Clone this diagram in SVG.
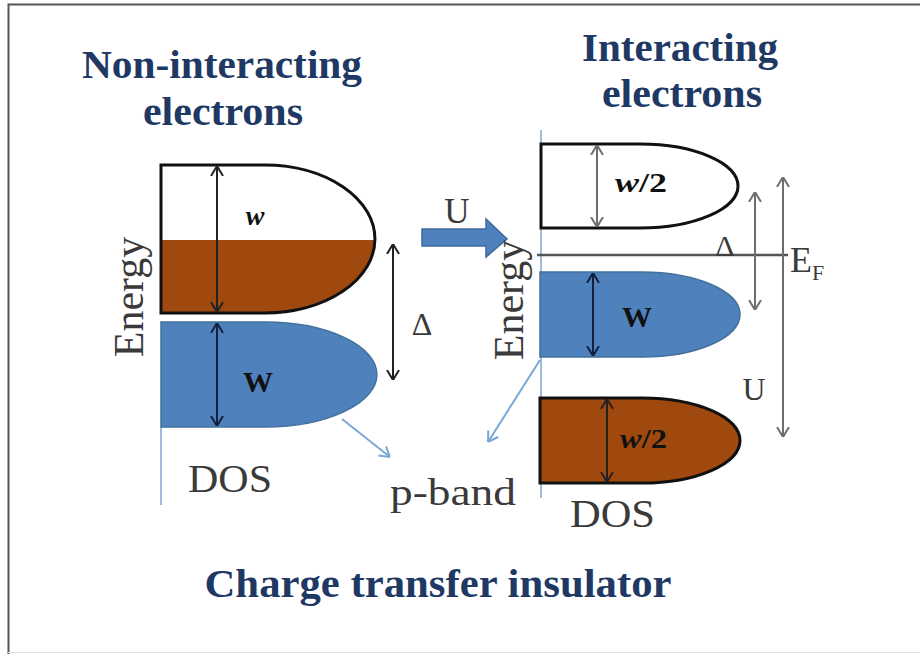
<svg xmlns="http://www.w3.org/2000/svg" width="920" height="654" viewBox="0 0 920 654">
<style>
  .title{font-family:"Liberation Serif","Times New Roman",Times,serif;font-weight:bold;font-size:40px;fill:#203864;text-anchor:middle}
  .lbl{font-family:"Liberation Serif","Times New Roman",Times,serif;fill:#3a3a3a}
  .bi{font-family:"Liberation Serif","Times New Roman",Times,serif;font-weight:bold;fill:#111}
  .blue{fill:#4F81BD;stroke:#41719C;stroke-width:1.5}
  .brown{fill:#A0490F}
  .outline{fill:none;stroke:#111;stroke-width:3}
  .axis{stroke:#9DBCE0;stroke-width:2;fill:none}
  .a-blk{stroke:#222;stroke-width:2;fill:none}
  .a-gry{stroke:#6e6e6e;stroke-width:2;fill:none}
  .a-nav{stroke:#14213d;stroke-width:2;fill:none}
  .a-lb{stroke:#7BA7D6;stroke-width:2;fill:none}
</style>
<defs>
  <marker id="mBlk" viewBox="0 0 10 14" refX="10" refY="7" markerWidth="10" markerHeight="14" markerUnits="userSpaceOnUse" orient="auto-start-reverse"><path d="M0,1 L10,7 L0,13" fill="none" stroke="#222" stroke-width="2"/></marker>
  <marker id="mGry" viewBox="0 0 10 14" refX="10" refY="7" markerWidth="10" markerHeight="14" markerUnits="userSpaceOnUse" orient="auto-start-reverse"><path d="M0,1 L10,7 L0,13" fill="none" stroke="#6e6e6e" stroke-width="2"/></marker>
  <marker id="mNav" viewBox="0 0 10 14" refX="10" refY="7" markerWidth="10" markerHeight="14" markerUnits="userSpaceOnUse" orient="auto-start-reverse"><path d="M0,1 L10,7 L0,13" fill="none" stroke="#14213d" stroke-width="2"/></marker>
  <marker id="mLb" viewBox="0 0 10 14" refX="10" refY="7" markerWidth="10" markerHeight="14" markerUnits="userSpaceOnUse" orient="auto-start-reverse"><path d="M0,1 L10,7 L0,13" fill="none" stroke="#7BA7D6" stroke-width="2"/></marker>
</defs>
<rect x="0" y="0" width="920" height="654" fill="#fff"/>
<path d="M8.5,654 V4.5 H920" fill="none" stroke="#555" stroke-width="2"/>
<line x1="8" y1="652.5" x2="920" y2="652.5" stroke="#e2e2e2" stroke-width="1"/>

<g id="titles">
  <text class="title" x="222" y="78" textLength="280" lengthAdjust="spacingAndGlyphs">Non-interacting</text>
  <text class="title" x="223" y="125" textLength="160" lengthAdjust="spacingAndGlyphs">electrons</text>
  <text class="title" x="680" y="61" textLength="196" lengthAdjust="spacingAndGlyphs">Interacting</text>
  <text class="title" x="682" y="107" textLength="160" lengthAdjust="spacingAndGlyphs">electrons</text>
  <text class="title" x="438" y="597" textLength="467" lengthAdjust="spacingAndGlyphs">Charge transfer insulator</text>
</g>

<g id="left-axis">
  <line class="axis" x1="161" y1="427" x2="161" y2="505"/>
  <text class="lbl" font-size="42" text-anchor="middle" fill="#555" transform="translate(143,297) rotate(-90)">Energy</text>
  <text class="lbl" font-size="40" x="188" y="492" textLength="84" lengthAdjust="spacingAndGlyphs">DOS</text>
</g>

<g id="left-d-band">
  <path class="brown" d="M161,240 H375 A110,74 0 0 1 265,313 H161 Z"/>
  <path class="outline" d="M161,165 H265 A110,74 0 0 1 265,313 H161 Z"/>
  <text class="bi" font-style="italic" font-size="28" x="255" y="225" text-anchor="middle">w</text>
</g>

<g id="left-p-band">
  <path class="blue" d="M161,322 H265 A112,52.5 0 0 1 265,427 H161 Z"/>
  <text class="bi" font-size="30" x="258" y="392" text-anchor="middle">W</text>
</g>

<g id="left-delta">
  <text class="lbl" font-size="32" x="422" y="335" text-anchor="middle" fill="#333">Δ</text>
</g>

<g id="u-arrow">
  <polygon points="422,229 486,229 486,219 507,239 486,257 486,246 422,246" fill="#4F81BD" stroke="#3D6A9E" stroke-width="1.5"/>
  <text class="lbl" font-size="35" x="457" y="223" text-anchor="middle" fill="#40405e">U</text>
</g>

<g id="right-axis">
  <line class="axis" x1="541" y1="130" x2="541" y2="498"/>
  <text class="lbl" font-size="42" text-anchor="middle" fill="#555" transform="translate(523,300) rotate(-90)">Energy</text>
  <text class="lbl" font-size="40" x="570" y="527" textLength="85" lengthAdjust="spacingAndGlyphs">DOS</text>
</g>

<g id="right-upper-band">
  <path class="outline" d="M541,144 H640 A98,42 0 0 1 640,228 H541 Z" fill="#fff"/>
  <text class="bi" font-size="28" x="615" y="192" textLength="52" lengthAdjust="spacingAndGlyphs"><tspan font-style="italic">w</tspan>/2</text>
</g>

<g id="fermi-level">
  <line x1="537" y1="255" x2="788" y2="255" stroke="#555" stroke-width="2.5"/>
  <text class="lbl" font-size="30" x="725" y="256" text-anchor="middle" fill="#333">Δ</text>
  <text class="lbl" font-size="36" x="790" y="272" fill="#333">E<tspan font-size="22" dy="8">F</tspan></text>
</g>

<g id="right-p-band">
  <path class="blue" d="M540,272 H642 A98,42.5 0 0 1 642,357 H540 Z"/>
  <text class="bi" font-size="30" x="637" y="327" text-anchor="middle">W</text>
</g>

<g id="right-lower-band">
  <path class="brown" d="M540,398 H642 A98,42.5 0 0 1 642,483 H540 Z"/>
  <path class="outline" d="M540,398 H642 A98,42.5 0 0 1 642,483 H540 Z"/>
  <text class="bi" font-size="28" x="620" y="448" textLength="47" lengthAdjust="spacingAndGlyphs"><tspan font-style="italic">w</tspan>/2</text>
</g>

<g id="right-u-label">
  <text class="lbl" font-size="32" x="754" y="400" text-anchor="middle" fill="#333">U</text>
</g>

<g id="p-band-label">
  <text class="lbl" font-size="38" x="390" y="505" textLength="126" lengthAdjust="spacingAndGlyphs">p-band</text>
</g>

<g id="connectors">
  <line class="a-blk" x1="217" y1="166" x2="217" y2="312" marker-start="url(#mBlk)" marker-end="url(#mBlk)"/>
  <line class="a-nav" x1="217" y1="323" x2="217" y2="426" marker-start="url(#mNav)" marker-end="url(#mNav)"/>
  <line class="a-blk" x1="393" y1="244" x2="393" y2="380" marker-start="url(#mBlk)" marker-end="url(#mBlk)"/>
  <line class="a-lb" x1="342" y1="419" x2="390" y2="457" marker-end="url(#mLb)"/>
  <line class="a-gry" x1="597" y1="145" x2="597" y2="227" marker-start="url(#mGry)" marker-end="url(#mGry)"/>
  <line class="a-gry" x1="755" y1="192" x2="755" y2="310" marker-start="url(#mGry)" marker-end="url(#mGry)"/>
  <line class="a-gry" x1="783" y1="177" x2="783" y2="437" marker-start="url(#mGry)" marker-end="url(#mGry)"/>
  <line class="a-nav" x1="593" y1="273" x2="593" y2="356" marker-start="url(#mNav)" marker-end="url(#mNav)"/>
  <line class="a-blk" x1="607" y1="399" x2="607" y2="482" marker-start="url(#mBlk)" marker-end="url(#mBlk)"/>
  <line class="a-lb" x1="540" y1="360" x2="488" y2="442" marker-end="url(#mLb)"/>
</g>
</svg>
